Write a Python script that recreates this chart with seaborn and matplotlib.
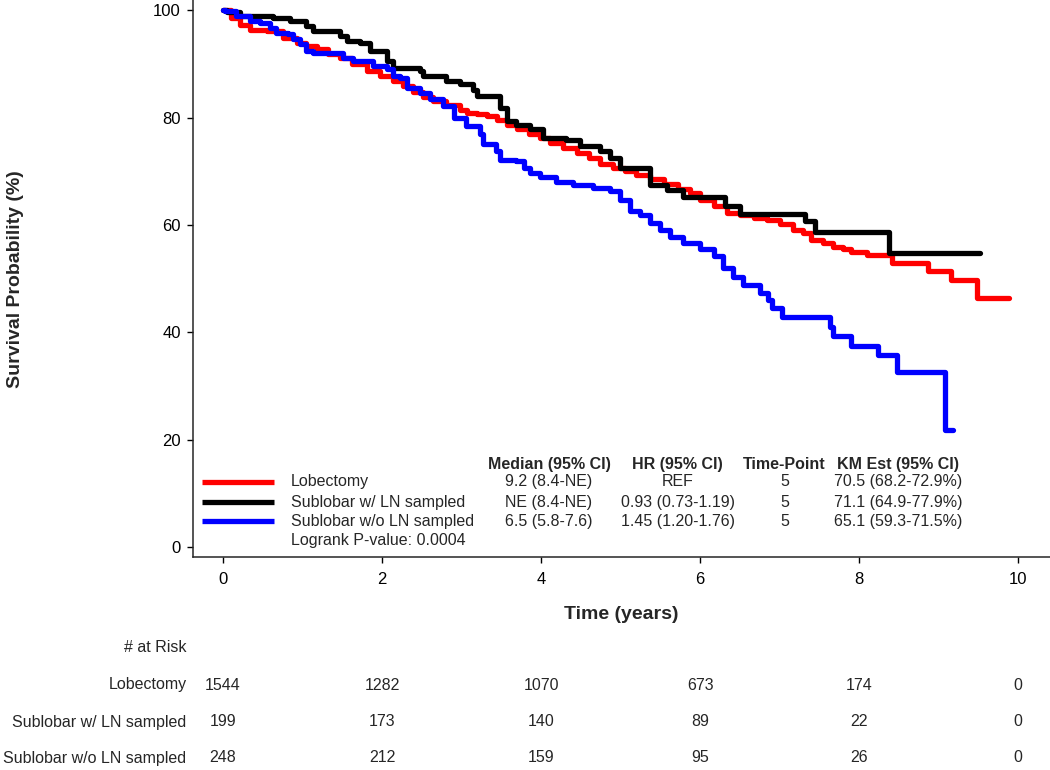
import matplotlib
matplotlib.use("Agg")
import matplotlib.pyplot as plt
import matplotlib.transforms as mtransforms
import pandas as pd
import seaborn as sns

# groups and colours
groups = ["Lobectomy", "Sublobar w/ LN sampled", "Sublobar w/o LN sampled"]
colors = ["#ff0000", "#000000", "#0000ff"]

# Kaplan-Meier step points (time in years, survival %)
lob_time = [0, 0.1, 0.21, 0.34, 0.55, 0.76, 0.93, 1.05, 1.18, 1.32, 1.47, 1.62, 1.81, 1.97,
            2.14, 2.26, 2.39, 2.52, 2.64, 2.8, 2.98, 3.07, 3.2, 3.32, 3.45, 3.57, 3.7, 3.85,
            3.99, 4.11, 4.28, 4.45, 4.6, 4.74, 4.9, 5.05, 5.2, 5.37, 5.55, 5.72, 5.87, 6.0,
            6.17, 6.34, 6.5, 6.68, 6.84, 7.0, 7.17, 7.3, 7.4, 7.55, 7.67, 7.8, 7.9, 8.1,
            8.41, 8.87, 9.16, 9.48, 9.88]
lob_surv = [100, 98.5, 97.3, 96.4, 96.1, 94.9, 93.9, 93.3, 92.7, 91.9, 91.1, 89.9, 88.7, 87.8,
            86.8, 85.8, 84.7, 83.8, 83.1, 82.3, 81.5, 80.9, 80.6, 80.3, 79.5, 78.7, 77.9, 77.0,
            76.2, 75.3, 74.4, 73.5, 72.4, 71.3, 70.6, 70.0, 69.3, 68.5, 67.7, 66.8, 66.0, 64.7,
            63.5, 62.3, 61.9, 61.4, 61.0, 60.2, 59.0, 58.5, 57.3, 56.7, 56.0, 55.5, 55.0, 54.5,
            52.9, 51.5, 49.8, 46.4, 46.4]

lnw_time = [0, 0.05, 0.21, 0.63, 0.84, 1.05, 1.13, 1.47, 1.56, 1.72, 1.85, 2.06, 2.14, 2.48,
            2.52, 2.81, 2.98, 3.15, 3.19, 3.48, 3.57, 3.69, 3.86, 4.03, 4.32, 4.49, 4.74, 4.87,
            4.99, 5.37, 5.58, 5.79, 6.31, 6.5, 7.32, 7.45, 8.37, 9.52]
lnw_surv = [100, 99.6, 99.0, 98.6, 98.0, 97.0, 96.1, 95.2, 94.2, 93.9, 92.4, 90.5, 89.3, 88.6,
            87.7, 86.8, 86.2, 85.2, 84.0, 81.8, 79.3, 78.7, 77.8, 76.2, 75.9, 74.7, 73.7, 72.5,
            70.6, 67.5, 66.6, 65.3, 63.5, 62.0, 60.7, 58.8, 54.8, 54.8]

lnwo_time = [0, 0.03, 0.17, 0.34, 0.47, 0.59, 0.67, 0.82, 0.88, 0.97, 1.05, 1.13, 1.51, 1.64,
             1.89, 2.06, 2.14, 2.23, 2.31, 2.48, 2.6, 2.77, 2.9, 3.06, 3.23, 3.27, 3.44, 3.48,
             3.69, 3.78, 3.86, 3.99, 4.19, 4.4, 4.65, 4.87, 4.99, 5.12, 5.25, 5.37, 5.5, 5.62,
             5.79, 6.0, 6.17, 6.29, 6.42, 6.54, 6.75, 6.86, 6.9, 7.03, 7.64, 7.67, 7.9, 8.24,
             8.47, 9.08, 9.18]
lnwo_surv = [100, 99.8, 98.9, 98.0, 97.7, 96.7, 95.8, 95.5, 94.6, 93.7, 92.4, 92.1, 91.1, 90.5,
             89.6, 89.0, 87.7, 87.4, 85.6, 84.6, 83.4, 82.1, 80.0, 78.4, 77.0, 75.0, 73.7, 72.2,
             71.9, 70.6, 69.7, 68.9, 68.1, 67.5, 66.9, 66.3, 64.7, 62.6, 61.9, 60.3, 59.1, 57.8,
             56.6, 55.5, 54.2, 52.0, 50.4, 48.8, 47.3, 46.1, 44.5, 42.8, 41.1, 39.3, 37.4, 35.8,
             32.7, 21.9, 21.9]

# summary table
medians = ["9.2 (8.4-NE)", "NE (8.4-NE)", "6.5 (5.8-7.6)"]
hazard_ratios = ["REF", "0.93 (0.73-1.19)", "1.45 (1.20-1.76)"]
time_points = ["5", "5", "5"]
km_estimates = ["70.5 (68.2-72.9%)", "71.1 (64.9-77.9%)", "65.1 (59.3-71.5%)"]
logrank_p = "0.0004"

# number at risk
risk_times = [0, 2, 4, 6, 8, 10]
risk_lob = [1544, 1282, 1070, 673, 174, 0]
risk_lnw = [199, 173, 140, 89, 22, 0]
risk_lnwo = [248, 212, 159, 95, 26, 0]

frames = []
for g, t, s in zip(groups, [lob_time, lnw_time, lnwo_time], [lob_surv, lnw_surv, lnwo_surv]):
    frames.append(pd.DataFrame({"group": g, "time": t, "surv": s}))
df = pd.concat(frames, ignore_index=True)

sns.set_style("ticks")
plt.rcParams["font.family"] = ["Liberation Sans", "DejaVu Sans"]

fig = plt.figure(figsize=(10.5, 7.7), dpi=100)
ax = fig.add_axes([0.1835, 0.2762, 0.8165, 0.7238])

sns.lineplot(data=df, x="time", y="surv", hue="group", hue_order=groups,
             palette=colors, drawstyle="steps-post", linewidth=3.8,
             estimator=None, legend=False, ax=ax)

ax.set_xlim(-0.38, 10.40)
ax.set_ylim(-1.86, 101.9)
ax.set_xticks([0, 2, 4, 6, 8, 10])
ax.set_yticks([0, 20, 40, 60, 80, 100])
sns.despine(ax=ax)
for sp in ["left", "bottom"]:
    ax.spines[sp].set_linewidth(1.1)
ax.tick_params(axis="both", length=4.5, width=1.0, labelsize=12, colors="black")
ax.tick_params(axis="x", pad=6)
ax.tick_params(axis="y", pad=4)

ax.set_xlabel("Time (years)", fontsize=14, fontweight="bold")
ax.set_ylabel("Survival Probability (%)", fontsize=14, fontweight="bold")
ax.xaxis.set_label_coords(0.5, -0.087)
ax.yaxis.set_label_coords(-0.197, 0.5)

# legend + summary table inside the plot
fs = 11.5
head_y = 15.5
row_y = [12.2, 8.4, 4.9]
col_x = [4.10, 5.72, 7.06, 8.49]
headers = ["Median (95% CI)", "HR (95% CI)", "Time-Point", "KM Est (95% CI)"]
for x, h in zip(col_x, headers):
    ax.text(x, head_y, h, ha="center", va="center", fontsize=fs, fontweight="bold")
for i, g in enumerate(groups):
    y = row_y[i]
    ax.plot([-0.264, 0.64], [y, y], color=colors[i], linewidth=3.8, solid_capstyle="butt")
    ax.text(0.855, y, g, ha="left", va="center", fontsize=fs)
    for x, v in zip(col_x, [medians[i], hazard_ratios[i], time_points[i], km_estimates[i]]):
        ax.text(x, y, v, ha="center", va="center", fontsize=fs)
ax.text(0.855, 1.2, f"Logrank P-value: {logrank_p}", ha="left", va="center", fontsize=fs)

# number at risk table below the axis
trans = mtransforms.blended_transform_factory(ax.transData, fig.transFigure)
label_x = 186.5 / 1050
fig.text(label_x, 1 - 647 / 770, "# at Risk", ha="right", va="center", fontsize=fs)
risk_rows = [risk_lob, risk_lnw, risk_lnwo]
risk_y = [685, 722, 758]
for g, counts, py in zip(groups, risk_rows, risk_y):
    fy = 1 - py / 770
    fig.text(label_x, fy, g, ha="right", va="center", fontsize=fs)
    for t, n in zip(risk_times, counts):
        ax.text(t, fy, str(n), ha="center", va="center", fontsize=fs, transform=trans)

fig.savefig("out.png", dpi=100)
